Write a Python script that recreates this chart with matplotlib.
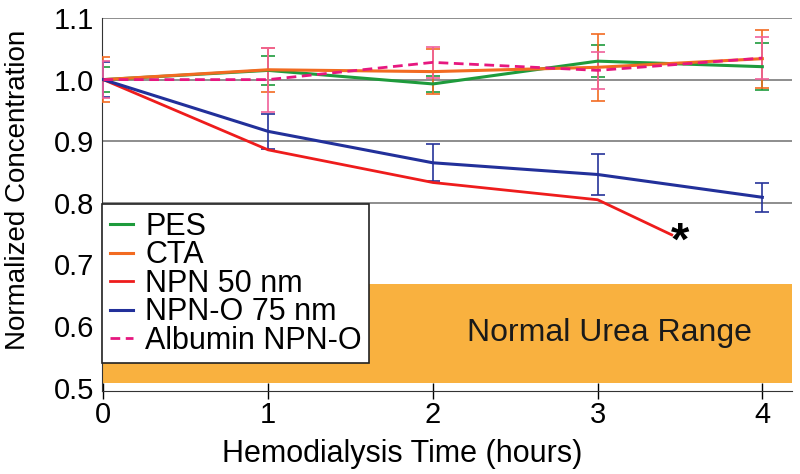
import numpy as np
import matplotlib.pyplot as plt

plt.rcParams['font.family'] = ['Liberation Sans', 'DejaVu Sans']

hours = [0, 1, 2, 3, 4]
hours_npn = [0, 1, 2, 3, 3.45]

pes = [1.000, 1.015, 0.993, 1.030, 1.021]
pes_err = [0.020, 0.024, 0.013, 0.026, 0.038]
cta = [1.000, 1.016, 1.013, 1.020, 1.034]
cta_err = [0.037, 0.036, 0.036, 0.054, 0.047]
npn50 = [1.000, 0.886, 0.833, 0.805, 0.748]
npno75 = [1.000, 0.916, 0.865, 0.846, 0.809]
npno75_err = [0.029, 0.028, 0.030, 0.034, 0.024]
albumin = [1.000, 1.000, 1.028, 1.015, 1.035]
albumin_err = [0.030, 0.052, 0.025, 0.030, 0.034]

urea_range = (0.508, 0.669)

fig = plt.figure(figsize=(8, 4.74), dpi=100)
ax = fig.add_axes([0.128, 0.175, 0.862, 0.787])

# normal urea band
ax.axhspan(urea_range[0], urea_range[1], color='#F9B13F', lw=0, zorder=0)
ax.text(3.07, np.mean(urea_range), 'Normal Urea Range', fontsize=23,
        ha='center', va='center', color='#1a1a1a', zorder=1)

for g in [0.8, 0.9, 1.0, 1.1]:
    ax.axhline(g, color='#6f6f6f', lw=1.1, zorder=1)

eb = dict(elinewidth=1.2, capsize=5, capthick=1.2, zorder=3)
ax.errorbar(hours, pes, yerr=pes_err, fmt='none', ecolor='#1E9B3C', **eb)
ax.errorbar(hours, cta, yerr=cta_err, fmt='none', ecolor='#F26B21', **eb)
ax.errorbar(hours, npno75, yerr=npno75_err, fmt='none', ecolor='#26339A', **eb)
ax.errorbar(hours, albumin, yerr=albumin_err, fmt='none', ecolor='#F0609A', **eb)

l1, = ax.plot(hours, pes, color='#1E9B3C', lw=2.2, zorder=4)
l2, = ax.plot(hours, cta, color='#F26B21', lw=2.2, zorder=4)
l3, = ax.plot(hours_npn, npn50, color='#EE1C1C', lw=2.0, zorder=4)
l4, = ax.plot(hours, npno75, color='#22309A', lw=2.2, zorder=4)
l5, = ax.plot(hours, albumin, color='#E6177F', lw=2.0, ls=(0, (3.5, 2)), zorder=5)

ax.annotate('*', xy=(hours_npn[-1], npn50[-1]), xytext=(6, -6),
            textcoords='offset points', fontsize=34, fontweight='bold',
            ha='center', va='center', zorder=6)

ax.set_xlim(-0.006, 4.18)
ax.set_ylim(0.4945, 1.1)
ax.set_xticks(hours)
ax.set_yticks([0.5, 0.6, 0.7, 0.8, 0.9, 1.0, 1.1])
ax.set_yticklabels(['0.5', '0.6', '0.7', '0.8', '0.9', '1.0', '1.1'])
ax.tick_params(axis='x', direction='inout', length=12, width=1, labelsize=21, pad=1)
ax.tick_params(axis='y', length=0, labelsize=21, pad=6)

ax.spines['top'].set_color('none')
ax.spines['right'].set_color('none')
ax.spines['left'].set_color('#333333')
ax.spines['bottom'].set_color('#333333')

ax.set_xlabel('Hemodialysis Time (hours)', fontsize=22)
ax.xaxis.set_label_coords(0.435, -0.128)
ax.set_ylabel('Normalized Concentration', fontsize=20)
ax.yaxis.set_label_coords(-0.104, 0.54)

leg = ax.legend([l1, l2, l3, l4, l5],
                ['PES', 'CTA', 'NPN 50 nm', 'NPN-O 75 nm', 'Albumin NPN-O'],
                loc='upper left', bbox_to_anchor=(0, 0.501), borderaxespad=0,
                fontsize=22, handlelength=0.75, handletextpad=0.4,
                labelspacing=-0.05, borderpad=0.25, fancybox=False,
                framealpha=1, edgecolor='#222222')
leg.get_frame().set_linewidth(1.2)
leg.set_zorder(10)

plt.savefig('out.png', dpi=100)
